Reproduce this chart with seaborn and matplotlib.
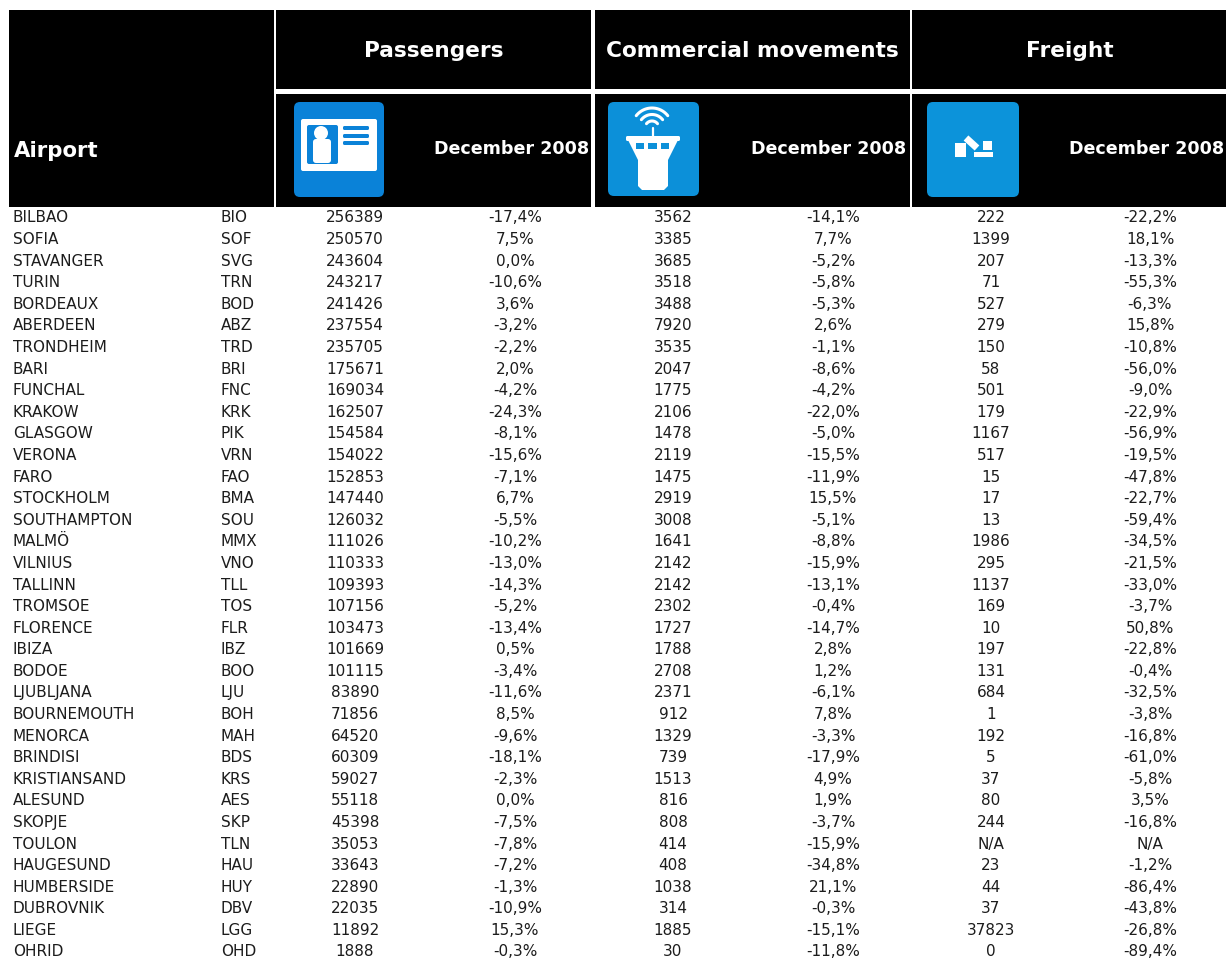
import numpy as np
import matplotlib
matplotlib.use('Agg')
import matplotlib.pyplot as plt
from matplotlib.patches import FancyBboxPatch, Rectangle, Circle, Polygon
import seaborn as sns

sns.set_theme(style='white')
plt.rcParams['font.family'] = ['DejaVu Sans']

# Data
airports = ['BILBAO', 'SOFIA', 'STAVANGER', 'TURIN', 'BORDEAUX', 'ABERDEEN', 'TRONDHEIM', 'BARI', 'FUNCHAL',
            'KRAKOW', 'GLASGOW', 'VERONA', 'FARO', 'STOCKHOLM', 'SOUTHAMPTON', 'MALMÖ', 'VILNIUS', 'TALLINN',
            'TROMSOE', 'FLORENCE', 'IBIZA', 'BODOE', 'LJUBLJANA', 'BOURNEMOUTH', 'MENORCA', 'BRINDISI',
            'KRISTIANSAND', 'ALESUND', 'SKOPJE', 'TOULON', 'HAUGESUND', 'HUMBERSIDE', 'DUBROVNIK', 'LIEGE', 'OHRID']
codes = ['BIO', 'SOF', 'SVG', 'TRN', 'BOD', 'ABZ', 'TRD', 'BRI', 'FNC', 'KRK', 'PIK', 'VRN', 'FAO', 'BMA', 'SOU',
         'MMX', 'VNO', 'TLL', 'TOS', 'FLR', 'IBZ', 'BOO', 'LJU', 'BOH', 'MAH', 'BDS', 'KRS', 'AES', 'SKP', 'TLN',
         'HAU', 'HUY', 'DBV', 'LGG', 'OHD']
passengers = [256389, 250570, 243604, 243217, 241426, 237554, 235705, 175671, 169034, 162507, 154584, 154022,
              152853, 147440, 126032, 111026, 110333, 109393, 107156, 103473, 101669, 101115, 83890, 71856,
              64520, 60309, 59027, 55118, 45398, 35053, 33643, 22890, 22035, 11892, 1888]
passengers_pct = [-17.4, 7.5, 0.0, -10.6, 3.6, -3.2, -2.2, 2.0, -4.2, -24.3, -8.1, -15.6, -7.1, 6.7, -5.5, -10.2,
                  -13.0, -14.3, -5.2, -13.4, 0.5, -3.4, -11.6, 8.5, -9.6, -18.1, -2.3, 0.0, -7.5, -7.8, -7.2,
                  -1.3, -10.9, 15.3, -0.3]
movements = [3562, 3385, 3685, 3518, 3488, 7920, 3535, 2047, 1775, 2106, 1478, 2119, 1475, 2919, 3008, 1641, 2142,
             2142, 2302, 1727, 1788, 2708, 2371, 912, 1329, 739, 1513, 816, 808, 414, 408, 1038, 314, 1885, 30]
movements_pct = [-14.1, 7.7, -5.2, -5.8, -5.3, 2.6, -1.1, -8.6, -4.2, -22.0, -5.0, -15.5, -11.9, 15.5, -5.1, -8.8,
                 -15.9, -13.1, -0.4, -14.7, 2.8, 1.2, -6.1, 7.8, -3.3, -17.9, 4.9, 1.9, -3.7, -15.9, -34.8, 21.1,
                 -0.3, -15.1, -11.8]
freight = [222, 1399, 207, 71, 527, 279, 150, 58, 501, 179, 1167, 517, 15, 17, 13, 1986, 295, 1137, 169, 10, 197,
           131, 684, 1, 192, 5, 37, 80, 244, None, 23, 44, 37, 37823, 0]
freight_pct = [-22.2, 18.1, -13.3, -55.3, -6.3, 15.8, -10.8, -56.0, -9.0, -22.9, -56.9, -19.5, -47.8, -22.7, -59.4,
               -34.5, -21.5, -33.0, -3.7, 50.8, -22.8, -0.4, -32.5, -3.8, -16.8, -61.0, -5.8, 3.5, -16.8, None,
               -1.2, -86.4, -43.8, -26.8, -89.4]
groups = ['Passengers', 'Commercial movements', 'Freight']
period = 'December 2008'


def fmt_count(v):
    return 'N/A' if v is None else str(v)


def fmt_pct(v):
    return 'N/A' if v is None else f'{v:.1f}%'.replace('.', ',')


W, H = 1227, 960
fig = plt.figure(figsize=(W / 100, H / 100), dpi=100, facecolor='white')

# Table body: one heatmap per column, centre of each column in pixels
first_row, last_row = 218, 952
row_h = (last_row - first_row) / (len(airports) - 1)
body_top = first_row - row_h / 2
body_h = row_h * len(airports)
half_w = 70
columns = [
    (airports, 13, 'left'),
    (codes, 221, 'left'),
    ([fmt_count(v) for v in passengers], 355, 'center'),
    ([fmt_pct(v) for v in passengers_pct], 515, 'center'),
    ([fmt_count(v) for v in movements], 673, 'center'),
    ([fmt_pct(v) for v in movements_pct], 833, 'center'),
    ([fmt_count(v) for v in freight], 991, 'center'),
    ([fmt_pct(v) for v in freight_pct], 1150, 'center'),
]
for labels, cx, ha in columns:
    ax = fig.add_axes([(cx - half_w) / W, 1 - (body_top + body_h) / H, 2 * half_w / W, body_h / H])
    ax.patch.set_alpha(0)
    sns.heatmap(np.zeros((len(labels), 1)), annot=np.array(labels).reshape(-1, 1), fmt='', cbar=False,
                cmap='Greys', vmin=0, vmax=1, alpha=0, xticklabels=False, yticklabels=False, ax=ax,
                annot_kws={'color': '#1c1c1c', 'fontsize': 11, 'ha': ha})
    ax.set_axis_off()

# Header, drawn in pixel coordinates
hd = fig.add_axes([0, 0, 1, 1], zorder=5)
hd.set_xlim(0, W)
hd.set_ylim(H, 0)
hd.axis('off')
hd.patch.set_alpha(0)


def box(x0, y0, x1, y1, color='black'):
    hd.add_patch(Rectangle((x0, y0), x1 - x0, y1 - y0, facecolor=color, edgecolor='none'))


box(9, 10, 274, 207)
for x0, x1 in [(276, 591), (595, 910), (912, 1226)]:
    box(x0, 10, x1, 89)
    box(x0, 94, x1, 207)


def icon(x0, y0, x1, y1, color):
    hd.add_patch(FancyBboxPatch((x0 + 5, y0 + 5), x1 - x0 - 10, y1 - y0 - 10, boxstyle='round,pad=5,rounding_size=6',
                                facecolor=color, edgecolor='none'))


def rbox(x0, y0, x1, y1, color='white', r=2):
    hd.add_patch(FancyBboxPatch((x0 + r, y0 + r), x1 - x0 - 2 * r, y1 - y0 - 2 * r,
                                boxstyle=f'round,pad={r},rounding_size={r}', facecolor=color, edgecolor='none'))


# ID card icon
blue1 = '#0a82d8'
icon(294, 102, 384, 197, blue1)
rbox(301, 119, 377, 171)
rbox(307, 125, 338, 164, blue1)
hd.add_patch(Circle((321, 133), 7, facecolor='white', edgecolor='none'))
rbox(313, 139, 331, 163, r=3)
for y in [128, 136, 143]:
    rbox(343, y - 2, 369, y + 2, blue1, r=1.5)

# Control tower icon
blue2 = '#0c90d9'
icon(608, 102, 699, 196, blue2)
theta = np.radians(np.linspace(38, 142, 30))
for r in [7, 13.5, 20]:
    hd.plot(652 + r * np.cos(theta), 128 - r * np.sin(theta), color='white', lw=2.2, solid_capstyle='round')
hd.plot([653, 653], [128, 138], color='white', lw=1.6)
rbox(626, 136, 680, 141, r=1.5)
hd.add_patch(Polygon([(628, 140), (678, 140), (668, 160), (668, 186), (664, 190), (642, 190), (638, 186), (638, 160)],
                     facecolor='white', edgecolor='none'))
for x0, x1 in [(636, 644), (648, 657), (661, 669)]:
    box(x0, 143, x1, 149, blue2)

# Freight icon
blue3 = '#0c93da'
icon(927, 102, 1019, 197, blue3)
box(955, 143, 966, 157, 'white')
box(983, 141, 992, 150, 'white')
box(974, 152, 993, 157, 'white')
hd.plot([966, 977], [138, 148], color='white', lw=5, solid_capstyle='butt')

# Header text
hd.text(14, 151, 'Airport', color='white', fontsize=15.3, fontweight='bold', ha='left', va='center')
for name, cx in zip(groups, [434, 752, 1070]):
    hd.text(cx, 51, name, color='white', fontsize=15.6, fontweight='bold', ha='center', va='center')
for right in [589, 906, 1224]:
    hd.text(right, 149, period, color='white', fontsize=12.6, fontweight='bold', ha='right', va='center')

plt.savefig('out.png', dpi=100, facecolor='white')
